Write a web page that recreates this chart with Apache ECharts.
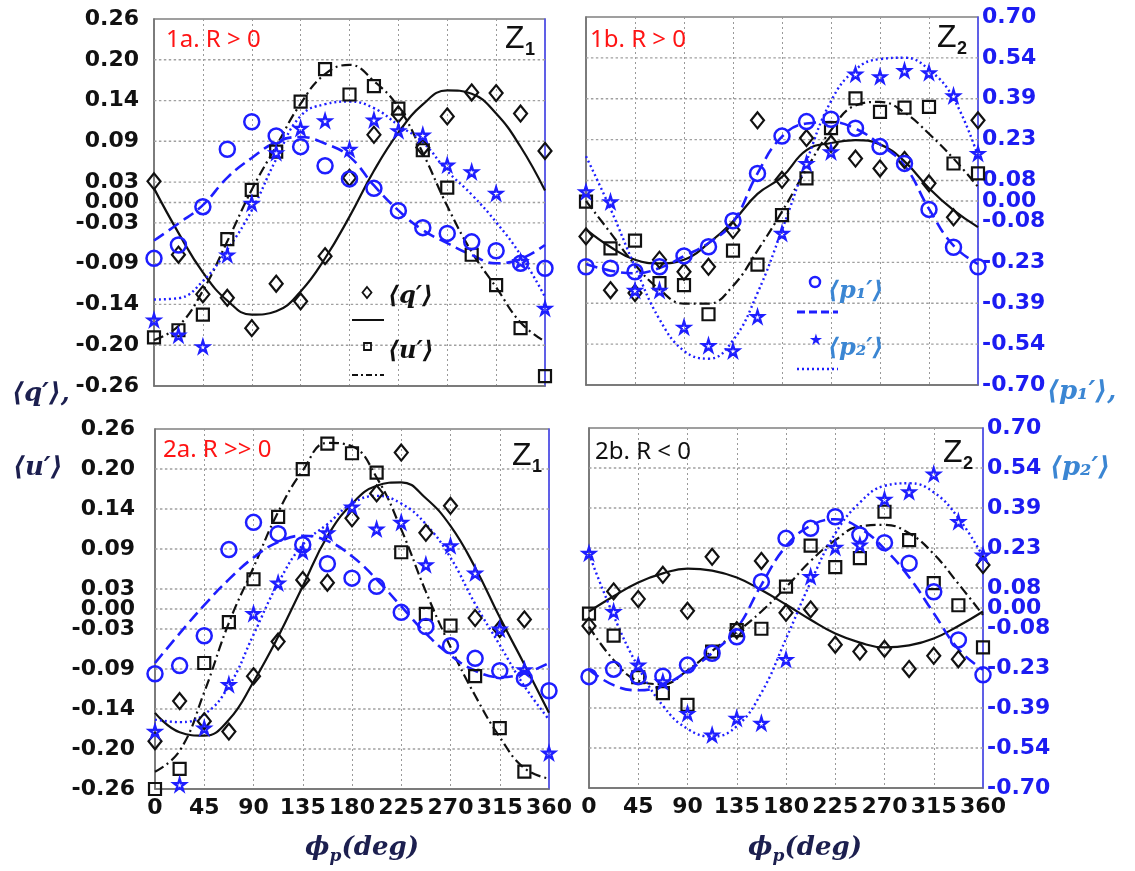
<!DOCTYPE html>
<html><head><meta charset="utf-8">
<script src="https://cdn.jsdelivr.net/npm/echarts@6/dist/echarts.min.js"></script>
<style>html,body{margin:0;padding:0;background:#fff}#c{width:1135px;height:871px}</style>
</head><body><div id="c"></div>
<script>
// ---- data ----
const phi = [0,22.5,45,67.5,90,112.5,135,157.5,180,202.5,225,247.5,270,292.5,315,337.5,360];
const xTicks = [0,45,90,135,180,225,270,315,360];
const qTicks = [-0.26,-0.2022,-0.1444,-0.0867,-0.0289,0,0.0289,0.0867,0.1444,0.2022,0.26];
const pTicks = [-0.70,-0.5444,-0.3889,-0.2333,-0.0778,0,0.0778,0.2333,0.3889,0.5444,0.70];

// panel 1a (Z1, R > 0)
const q1a   = [0.03,-0.074,-0.13,-0.135,-0.178,-0.115,-0.14,-0.076,0.035,0.096,0.125,0.078,0.122,0.156,0.155,0.126,0.073];
const u1a   = [-0.191,-0.181,-0.159,-0.052,0.018,0.072,0.143,0.189,0.153,0.165,0.133,0.074,0.021,-0.074,-0.117,-0.178,-0.246];
const p1_1a = [-0.213,-0.162,-0.016,0.203,0.308,0.254,0.213,0.14,0.09,0.054,-0.031,-0.096,-0.118,-0.15,-0.184,-0.232,-0.251];
const p2_1a = [-0.448,-0.506,-0.55,-0.20,-0.003,0.19,0.283,0.312,0.203,0.315,0.274,0.257,0.143,0.117,0.035,-0.225,-0.404];
const qFit1a  = [0.02,-0.043,-0.099,-0.139,-0.159,-0.154,-0.126,-0.079,-0.02,0.045,0.099,0.139,0.159,0.154,0.126,0.079,0.017];
const uFit1a  = [-0.195,-0.175,-0.125,-0.055,0.018,0.08,0.14,0.182,0.195,0.172,0.135,0.07,-0.005,-0.07,-0.12,-0.17,-0.197];
const p1Fit1a = [-0.145,-0.08,-0.01,0.095,0.17,0.23,0.25,0.225,0.175,0.065,-0.03,-0.105,-0.155,-0.2,-0.232,-0.215,-0.162];
const p2Fit1a = [-0.37,-0.365,-0.3,-0.18,-0.03,0.165,0.33,0.375,0.385,0.36,0.295,0.23,0.12,0.03,-0.075,-0.2,-0.36];

// panel 1b (Z2, R > 0)
const q1b   = [-0.05,-0.126,-0.13,-0.083,-0.1,-0.093,-0.041,0.114,0.03,0.089,0.081,0.06,0.046,0.058,0.025,-0.023,0.114];
const u1b   = [-0.001,-0.067,-0.056,-0.116,-0.119,-0.16,-0.07,-0.09,-0.02,0.032,0.103,0.145,0.126,0.132,0.133,0.053,0.039];
const p1_1b = [-0.25,-0.256,-0.269,-0.25,-0.209,-0.174,-0.075,0.105,0.247,0.302,0.311,0.277,0.207,0.143,-0.032,-0.176,-0.25];
const p2_1b = [0.035,-0.003,-0.34,-0.34,-0.48,-0.55,-0.57,-0.44,-0.123,0.143,0.187,0.483,0.473,0.496,0.488,0.40,0.181];
const qFit1b  = [-0.04,-0.065,-0.083,-0.088,-0.083,-0.06,-0.029,0.01,0.034,0.072,0.082,0.086,0.08,0.056,0.018,-0.013,-0.037];
const uFit1b  = [0.0,-0.045,-0.09,-0.125,-0.145,-0.145,-0.12,-0.07,-0.015,0.045,0.1,0.135,0.14,0.125,0.095,0.06,0.02];
const p1Fit1b = [-0.24,-0.265,-0.275,-0.255,-0.21,-0.16,-0.08,0.105,0.245,0.295,0.30,0.275,0.215,0.135,-0.03,-0.17,-0.24];
const p2Fit1b = [0.17,-0.03,-0.25,-0.45,-0.57,-0.6,-0.53,-0.35,-0.11,0.15,0.38,0.5,0.54,0.545,0.5,0.39,0.17];

// panel 2a (Z1, R >> 0)
const q2a   = [-0.191,-0.133,-0.162,-0.177,-0.097,-0.047,0.042,0.038,0.131,0.167,0.226,0.11,0.149,-0.013,-0.029,-0.015,null];
const u2a   = [-0.26,-0.231,-0.078,-0.019,0.043,0.133,0.202,0.239,0.225,0.197,0.082,-0.007,-0.024,-0.097,-0.172,-0.235,null];
const p1_2a = [-0.252,-0.22,-0.104,0.231,0.337,0.293,0.25,0.176,0.12,0.088,-0.013,-0.068,-0.143,-0.192,-0.24,-0.27,-0.318];
const p2_2a = [-0.476,-0.683,-0.463,-0.294,-0.018,0.101,0.224,0.296,0.397,0.311,0.337,0.172,0.246,0.14,-0.078,-0.236,-0.56];
const qFit2a  = [-0.15,-0.178,-0.183,-0.16,-0.105,-0.04,0.033,0.105,0.152,0.178,0.183,0.16,0.12,0.06,-0.012,-0.08,-0.15];
const uFit2a  = [-0.235,-0.205,-0.12,-0.02,0.06,0.14,0.2,0.24,0.235,0.19,0.115,0.025,-0.055,-0.125,-0.185,-0.23,-0.245];
const p1Fit2a = [-0.21,-0.095,0.015,0.115,0.2,0.26,0.285,0.265,0.205,0.115,0.01,-0.095,-0.18,-0.24,-0.265,-0.25,-0.21];
const p2Fit2a = [-0.43,-0.44,-0.41,-0.3,-0.1,0.1,0.25,0.33,0.41,0.44,0.41,0.33,0.2,0.02,-0.14,-0.3,-0.43];

// panel 2b (Z2, R < 0)
const q2b   = [-0.026,0.024,0.013,0.048,-0.004,0.074,-0.032,0.068,-0.007,-0.002,-0.053,-0.063,-0.059,-0.088,-0.069,-0.074,0.062];
const u2b   = [-0.008,-0.04,-0.1,-0.123,-0.14,-0.063,-0.032,-0.03,0.031,0.09,0.059,0.072,0.139,0.098,0.036,0.004,-0.057];
const p1_2b = [-0.267,-0.238,-0.267,-0.265,-0.222,-0.176,-0.112,0.102,0.271,0.31,0.355,0.284,0.254,0.174,0.063,-0.124,-0.26];
const p2_2b = [0.213,-0.014,-0.222,-0.287,-0.41,-0.494,-0.429,-0.448,-0.2,0.122,0.236,0.245,0.423,0.452,0.521,0.336,0.206];
const qFit2b  = [-0.005,0.017,0.037,0.05,0.057,0.054,0.044,0.026,0.005,-0.017,-0.037,-0.05,-0.057,-0.054,-0.044,-0.026,-0.005];
const uFit2b  = [-0.027,-0.075,-0.105,-0.11,-0.09,-0.062,-0.035,-0.005,0.03,0.068,0.098,0.118,0.12,0.108,0.078,0.035,-0.01];
const p1Fit2b = [-0.24,-0.3,-0.32,-0.3,-0.245,-0.175,-0.08,0.09,0.24,0.32,0.345,0.31,0.23,0.12,-0.02,-0.16,-0.24];
const p2Fit2b = [0.21,-0.03,-0.23,-0.38,-0.47,-0.5,-0.46,-0.33,-0.12,0.1,0.29,0.41,0.475,0.485,0.45,0.35,0.2];

const panelTitles = ['1a. R > 0','1b. R > 0','2a. R >> 0','2b. R < 0'];
const zoneNames = ['1','2','1','2'];

// ---- layout / styles ----
const panels = [
  {grid:{left:154,top:19,width:391,height:367}, leftLab:true, rightLab:false, xLab:false, lPad:0, lMargin:15,
   d:{q:q1a,u:u1a,p1:p1_1a,p2:p2_1a,qf:qFit1a,uf:uFit1a,p1f:p1Fit1a,p2f:p2Fit1a},
   title:{x:166,y:40,color:'#ff1414'}, z:{x:505,y:39}},
  {grid:{left:586,top:17,width:392,height:368}, leftLab:false, rightLab:true, xLab:false, lPad:0, lMargin:15,
   d:{q:q1b,u:u1b,p1:p1_1b,p2:p2_1b,qf:qFit1b,uf:uFit1b,p1f:p1Fit1b,p2f:p2Fit1b},
   title:{x:590,y:40,color:'#ff1414'}, z:{x:937,y:38}},
  {grid:{left:155,top:429,width:394,height:360}, leftLab:true, rightLab:false, xLab:true, lPad:24, lMargin:20,
   d:{q:q2a,u:u2a,p1:p1_2a,p2:p2_2a,qf:qFit2a,uf:uFit2a,p1f:p1Fit2a,p2f:p2Fit2a},
   title:{x:163,y:450,color:'#ff1414'}, z:{x:512,y:456}},
  {grid:{left:589,top:428,width:394,height:360}, leftLab:false, rightLab:true, xLab:true, lPad:0, lMargin:15,
   d:{q:q2b,u:u2b,p1:p1_2b,p2:p2_2b,qf:qFit2b,uf:uFit2b,p1f:p1Fit2b,p2f:p2Fit2b},
   title:{x:595,y:452,color:'#111111'}, z:{x:943,y:453}}
];

const BLUE = '#1e1eff';
const BLACK = '#111111';
const GRIDC = '#999999';
const STAR = 'path://M50,0 L61,35 L98,35 L68,57 L79,91 L50,70 L21,91 L32,57 L2,35 L39,35 Z';
// dotted horizontal rule used as a symbol for the grid levels
let DOTS = 'path://';
for (let k = 0; k < 80; k++) DOTS += 'M' + (k*5) + ',0h2.5v1h-2.5z';
const tickFont = {fontFamily:'"DejaVu Sans", sans-serif', fontWeight:'bold', fontSize:22};
const fmt = v => v.toFixed(2);
const pairs = arr => phi.map((x,i)=>[x,arr[i]]).filter(d=>d[1]!==null && d[1]!==undefined);
const xMid = (xTicks[0] + xTicks[xTicks.length-1]) / 2;

const grids=[], xAxes=[], yAxes=[], series=[];
panels.forEach((p,i)=>{
  grids.push(Object.assign({show:true, borderColor:'#808080', borderWidth:1.5, containLabel:false, outerBoundsMode:'none'}, p.grid));
  xAxes.push({type:'value', gridIndex:i, min:0, max:360, interval:45,
    axisLabel:{show:p.xLab, customValues:xTicks, color:BLACK, margin:8, ...tickFont},
    axisTick:{show:false},
    axisLine:{show:true, onZero:false, lineStyle:{color:'#707070', width:1.5}},
    splitLine:{show:true, lineStyle:{color:GRIDC, width:1, type:[2,3]}}});
  yAxes.push({type:'value', gridIndex:i, position:'left', min:-0.26, max:0.26,
    axisLabel:{show:p.leftLab, customValues:qTicks, formatter:fmt, color:BLACK, margin:p.lMargin, padding:[p.lPad,0,0,0], ...tickFont},
    axisTick:{show:false},
    axisLine:{show:true, onZero:false, lineStyle:{color:'#707070', width:1.5}},
    splitLine:{show:false}});
  yAxes.push({type:'value', gridIndex:i, position:'right', min:-0.70, max:0.70,
    axisLabel:{show:p.rightLab, customValues:pTicks, formatter:fmt, color:'#1c1cf2', margin:4, ...tickFont},
    axisTick:{show:false},
    axisLine:{show:true, onZero:false, lineStyle:{color:'#4b4bff', width:1.5}},
    splitLine:{show:false}});
  const L = 2*i, R = 2*i+1;
  // horizontal dotted grid lines, one rule per left-axis tick level
  series.push({type:'scatter', xAxisIndex:i, yAxisIndex:L, data:qTicks.slice(1,-1).map(v=>[xMid,v]),
    symbol:DOTS, symbolSize:[p.grid.width, 1.4], silent:true, z:1, clip:false,
    itemStyle:{color:'#a0a0a0', borderWidth:0, opacity:1}});
  const line = (arr, yi, color, type, w) => ({type:'line', xAxisIndex:i, yAxisIndex:yi, data:pairs(arr),
    showSymbol:false, smooth:0.45, silent:true, z:3, lineStyle:{color, width:w, type}});
  series.push(line(p.d.qf, L, BLACK, 'solid', 2.2));
  series.push(line(p.d.uf, L, BLACK, [10,4,2,4], 2.2));
  series.push(line(p.d.p1f, R, BLUE, [12,6], 2.6));
  series.push(line(p.d.p2f, R, BLUE, [2,3], 2.4));
  const sc = (arr, yi, symbol, size, color, bw) => ({type:'scatter', xAxisIndex:i, yAxisIndex:yi, data:pairs(arr),
    symbol, symbolSize:size, silent:true, z:4,
    itemStyle:{color:'rgba(0,0,0,0)', borderColor:color, borderWidth:bw, opacity:1}});
  series.push(sc(p.d.q, L, 'diamond', [13,16], BLACK, 2.2));
  series.push(sc(p.d.u, L, 'rect', 12, BLACK, 2.2));
  series.push(sc(p.d.p1, R, 'circle', 15, BLUE, 2.5));
  series.push(sc(p.d.p2, R, STAR, 12, BLUE, 2.3));
});

// ---- texts & legends ----
const SERIF = '"DejaVu Serif", "DejaVu Sans", serif';
const graphic = [];
panels.forEach((p,i)=>{
  graphic.push({type:'text', x:p.title.x, y:p.title.y, z:10,
    style:{text:panelTitles[i], font:'24px "Noto Sans", "Open Sans", sans-serif', fill:p.title.color, verticalAlign:'middle', align:'left'}});
  graphic.push({type:'text', x:p.z.x, y:p.z.y, z:10,
    style:{text:'Z', font:'32px "Liberation Sans", Arial, sans-serif', fill:BLACK, verticalAlign:'middle', align:'left'}});
  graphic.push({type:'text', x:p.z.x+20, y:p.z.y+11, z:10,
    style:{text:zoneNames[i], font:'bold 18px "Liberation Sans", Arial, sans-serif', fill:BLACK, verticalAlign:'middle', align:'left'}});
});
// legend 1a
graphic.push({type:'polygon', z:10, shape:{points:[[367,287],[371.5,292.5],[367,298],[362.5,292.5]]}, style:{fill:'none', stroke:BLACK, lineWidth:1.8}});
graphic.push({type:'text', x:388, y:297, z:10, style:{text:'⟨q′⟩', font:'italic bold 24px '+SERIF, fill:BLACK, verticalAlign:'middle'}});
graphic.push({type:'line', z:10, shape:{x1:352,y1:320,x2:384,y2:320}, style:{stroke:BLACK, lineWidth:2}});
graphic.push({type:'rect', z:10, shape:{x:364,y:343,width:7,height:7}, style:{fill:'none', stroke:BLACK, lineWidth:1.8}});
graphic.push({type:'text', x:388, y:352, z:10, style:{text:'⟨u′⟩', font:'italic bold 24px '+SERIF, fill:BLACK, verticalAlign:'middle'}});
graphic.push({type:'line', z:10, shape:{x1:352,y1:375,x2:384,y2:375}, style:{stroke:BLACK, lineWidth:2, lineDash:[6,3,2,3]}});
// legend 1b
const LBLUE = '#3b86d3';
graphic.push({type:'circle', z:10, shape:{cx:815,cy:282,r:5}, style:{fill:'none', stroke:BLUE, lineWidth:2.5}});
graphic.push({type:'text', x:828, y:292, z:10, style:{text:'⟨p₁′⟩', font:'italic bold 24px '+SERIF, fill:LBLUE, verticalAlign:'middle'}});
graphic.push({type:'line', z:10, shape:{x1:797,y1:312,x2:838,y2:312}, style:{stroke:BLUE, lineWidth:3, lineDash:[8,4]}});
graphic.push({type:'text', x:816, y:341, z:10, style:{text:'★', font:'16px "DejaVu Sans", sans-serif', fill:BLUE, verticalAlign:'middle', align:'center'}});
graphic.push({type:'text', x:828, y:349, z:10, style:{text:'⟨p₂′⟩', font:'italic bold 24px '+SERIF, fill:LBLUE, verticalAlign:'middle'}});
graphic.push({type:'line', z:10, shape:{x1:797,y1:369,x2:838,y2:369}, style:{stroke:BLUE, lineWidth:2.5, lineDash:[2,3]}});
// axis titles
const NAVY = '#1c1f4f';
graphic.push({type:'text', x:12, y:394, z:10, style:{text:'⟨q′⟩,', font:'italic bold 26px '+SERIF, fill:NAVY, verticalAlign:'middle'}});
graphic.push({type:'text', x:13, y:468, z:10, style:{text:'⟨u′⟩', font:'italic bold 26px '+SERIF, fill:NAVY, verticalAlign:'middle'}});
graphic.push({type:'text', x:1047, y:392, z:10, style:{text:'⟨p₁′⟩,', font:'italic bold 26px '+SERIF, fill:LBLUE, verticalAlign:'middle'}});
graphic.push({type:'text', x:1050, y:468, z:10, style:{text:'⟨p₂′⟩', font:'italic bold 26px '+SERIF, fill:LBLUE, verticalAlign:'middle'}});
const phiRich = {a:{fontFamily:SERIF, fontStyle:'italic', fontWeight:'bold', fontSize:26, fill:NAVY, lineHeight:34, verticalAlign:'middle'},
                 b:{fontFamily:SERIF, fontStyle:'italic', fontWeight:'bold', fontSize:17, fill:NAVY, verticalAlign:'bottom'}};
[362, 805].forEach(cx=>{
  graphic.push({type:'text', x:cx, y:848, z:10, style:{text:'{a|ϕ}{b|p}{a|(deg)}', rich:phiRich, align:'center', verticalAlign:'middle'}});
});

const chart = echarts.init(document.getElementById('c'), null, {renderer:'canvas'});
chart.setOption({animation:false, backgroundColor:'#ffffff', grid:grids, xAxis:xAxes, yAxis:yAxes, series, graphic});
</script></body></html>
